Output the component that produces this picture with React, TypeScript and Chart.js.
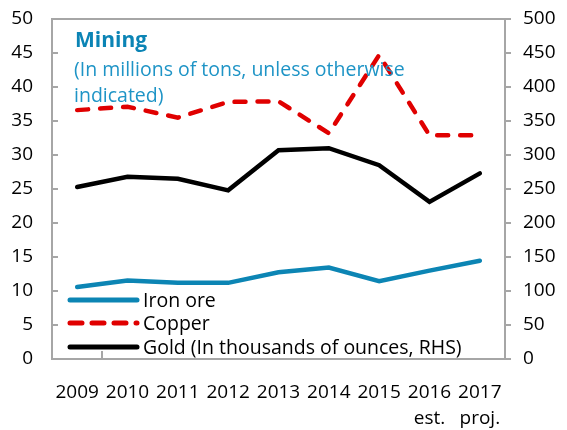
import React, { useEffect, useRef } from "react";
import { Chart, registerables } from "chart.js";

Chart.register(...registerables);

const years = ["2009", "2010", "2011", "2012", "2013", "2014", "2015", "2016", "2017"];
const yearNotes = ["", "", "", "", "", "", "", "est.", "proj."];
const ironOre = [10.6, 11.55, 11.2, 11.2, 12.75, 13.45, 11.45, 13.0, 14.45];
const copper = [36.6, 37.1, 35.5, 37.8, 37.9, 33.2, 44.7, 32.9, 32.9];
const gold = [253, 268, 265, 248, 307, 310, 285, 231, 273];
const leftTicks = [0, 5, 10, 15, 20, 25, 30, 35, 40, 45, 50];
const rightTicks = [0, 50, 100, 150, 200, 250, 300, 350, 400, 450, 500];

const titleText = "Mining";
const subtitleLines = ["(In millions of tons, unless otherwise", "indicated)"];
const seriesNames = ["Iron ore", "Copper", "Gold (In thousands of ounces, RHS)"];

const FONT = "'Open Sans', 'Noto Sans', sans-serif";
const AXIS_GRAY = "#A6A6A6";

const overlayPlugin = {
  id: "overlay",
  beforeDatasetsDraw(chart: any) {
    const { ctx, chartArea } = chart;
    const { left, right, top, bottom } = chartArea;
    ctx.save();
    ctx.strokeStyle = AXIS_GRAY;
    ctx.lineWidth = 2;
    ctx.strokeRect(left, top, right - left, bottom - top);
    // inward ticks on the left axis
    const yl = chart.scales.y;
    yl.ticks.forEach((t: any) => {
      const py = Math.round(yl.getPixelForValue(t.value));
      ctx.beginPath();
      ctx.moveTo(left, py);
      ctx.lineTo(left + 6, py);
      ctx.stroke();
    });
    // bottom axis small tick
    const xs = chart.scales.x;
    const bx = Math.round((xs.getPixelForValue(0) + xs.getPixelForValue(1)) / 2);
    ctx.beginPath();
    ctx.moveTo(bx, bottom);
    ctx.lineTo(bx, bottom - 8);
    ctx.stroke();
    ctx.restore();
  },
  afterDraw(chart: any) {
    const { ctx, chartArea } = chart;
    const { left, top } = chartArea;
    ctx.save();
    ctx.textBaseline = "alphabetic";
    ctx.textAlign = "left";
    ctx.fillStyle = "#0B84B5";
    ctx.font = `bold 21px ${FONT}`;
    ctx.fillText(titleText, left + 23, top + 28);
    ctx.fillStyle = "#1E94C6";
    ctx.font = `19.5px ${FONT}`;
    subtitleLines.forEach((s, i) => ctx.fillText(s, left + 22, top + 57 + i * 26));

    // legend
    const ys = [300, 323, 347];
    chart.data.datasets.forEach((ds: any, i: number) => {
      const y = ys[i];
      ctx.save();
      ctx.strokeStyle = ds.borderColor;
      ctx.lineWidth = 5;
      ctx.lineCap = "round";
      ctx.setLineDash(ds.borderDash && ds.borderDash.length ? [12, 10] : []);
      ctx.beginPath();
      ctx.moveTo(left + 18, y);
      ctx.lineTo(left + 85, y);
      ctx.stroke();
      ctx.restore();
      ctx.fillStyle = "#000";
      ctx.font = `19.5px ${FONT}`;
      ctx.textBaseline = "middle";
      ctx.fillText(ds.label, left + 91, y + 1);
    });
    ctx.restore();
  },
};

export default function App() {
  const ref = useRef<HTMLCanvasElement | null>(null);
  useEffect(() => {
    if (!ref.current) return;
    const labels = years.map((y, i) => (yearNotes[i] ? [y, yearNotes[i]] : y));
    const chart = new Chart(ref.current, {
      type: "line",
      data: {
        labels,
        datasets: [
          {
            label: seriesNames[0],
            data: ironOre,
            borderColor: "#0C85B4",
            borderWidth: 4.5,
            pointRadius: 0,
            yAxisID: "y",
            borderCapStyle: "round",
          },
          {
            label: seriesNames[1],
            data: copper,
            borderColor: "#E00000",
            borderWidth: 4.5,
            borderDash: [11, 12],
            borderCapStyle: "round",
            pointRadius: 0,
            yAxisID: "y",
          },
          {
            label: seriesNames[2],
            data: gold,
            borderColor: "#000000",
            borderWidth: 4.5,
            pointRadius: 0,
            yAxisID: "y1",
            borderCapStyle: "round",
          },
        ],
      },
      options: {
        animation: false,
        responsive: true,
        maintainAspectRatio: false,
        layout: { padding: { top: 19, left: 0, right: 0, bottom: 0 } },
        plugins: { legend: { display: false }, tooltip: { enabled: false }, title: { display: false } },
        scales: {
          x: {
            offset: true,
            grid: { display: false, drawTicks: false },
            border: { display: false },
            ticks: {
              color: "#000",
              font: { family: FONT, size: 19, lineHeight: 1.4 },
              padding: 20,
              maxRotation: 0,
              autoSkip: false,
            },
            afterFit(s: any) {
              s.height = 71;
              s.paddingLeft = 0;
              s.paddingRight = 0;
            },
          },
          y: {
            position: "left",
            min: 0,
            max: 50,
            afterBuildTicks(s: any) {
              s.ticks = leftTicks.map((v) => ({ value: v }));
            },
            grid: { display: false, drawTicks: false },
            border: { display: false },
            ticks: { color: "#000", font: { family: FONT, size: 19 }, padding: 19 },
            afterFit(s: any) {
              s.width = 52;
              s.paddingTop = 0;
              s.paddingBottom = 0;
            },
          },
          y1: {
            position: "right",
            min: 0,
            max: 500,
            afterBuildTicks(s: any) {
              s.ticks = rightTicks.map((v) => ({ value: v }));
            },
            grid: { drawOnChartArea: false, drawTicks: true, tickLength: 6, color: AXIS_GRAY, lineWidth: 2 },
            border: { display: false },
            ticks: { color: "#000", font: { family: FONT, size: 19 }, padding: 12 },
            afterFit(s: any) {
              s.width = 62;
              s.paddingTop = 0;
              s.paddingBottom = 0;
            },
          },
        },
      },
      plugins: [overlayPlugin],
    });
    return () => chart.destroy();
  }, []);
  return (
    <div style={{ position: "fixed", left: 0, top: 0, width: 567, height: 430, background: "#fff" }}>
      <canvas ref={ref} />
    </div>
  );
}
